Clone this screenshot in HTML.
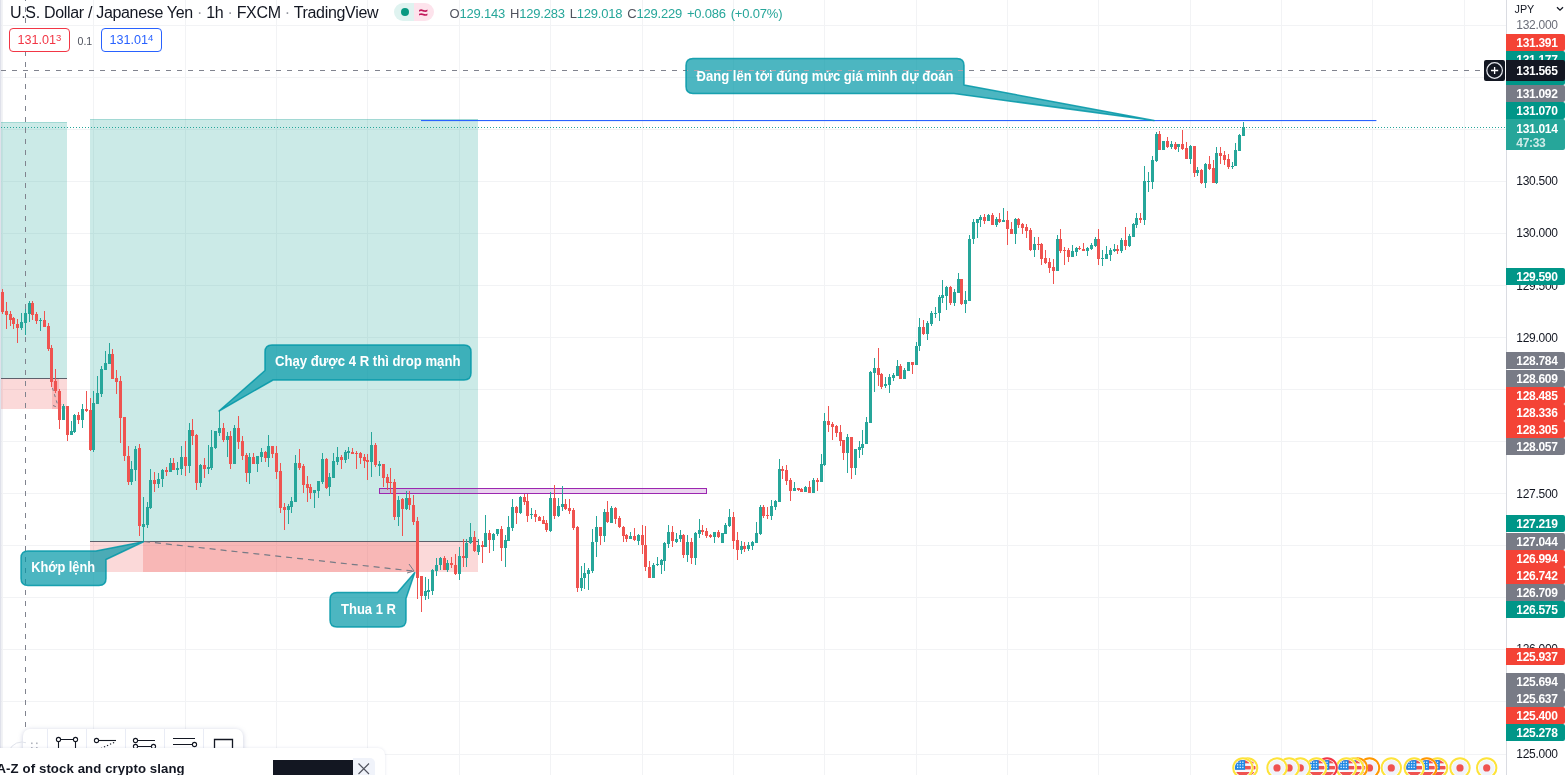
<!DOCTYPE html>
<html lang="vi"><head><meta charset="utf-8"><title>USDJPY</title>
<style>
html,body{margin:0;padding:0;background:#fff;}
body{width:1568px;height:775px;overflow:hidden;position:relative;font-family:"Liberation Sans",sans-serif;color:#131722;}
#chart{position:absolute;left:0;top:0;}
.abs{position:absolute;white-space:nowrap;}
.lbl{position:absolute;left:1506px;width:59px;height:17px;border-radius:0 2px 2px 0;color:#fff;font-weight:bold;font-size:12px;line-height:17px;box-sizing:border-box;padding-left:10.3px;padding-top:0.8px;overflow:hidden;letter-spacing:-0.3px;}
.tick{position:absolute;left:1516.3px;font-size:12px;line-height:14px;color:#131722;letter-spacing:-0.28px;}
.co{font-weight:bold;fill:#fff;font-size:14px;font-family:"Liberation Sans",sans-serif;}
</style></head><body>

<svg id="chart" width="1568" height="775" viewBox="0 0 1568 775">
<g shape-rendering="crispEdges" stroke="#f0f3fa" stroke-width="1">
<g stroke="#f2f3f5">
<line x1="2.5" y1="0" x2="2.5" y2="775"/>
<line x1="93.5" y1="0" x2="93.5" y2="775"/>
<line x1="185.5" y1="0" x2="185.5" y2="775"/>
<line x1="276.5" y1="0" x2="276.5" y2="775"/>
<line x1="367.5" y1="0" x2="367.5" y2="775"/>
<line x1="459.5" y1="0" x2="459.5" y2="775"/>
<line x1="550.5" y1="0" x2="550.5" y2="775"/>
<line x1="642.5" y1="0" x2="642.5" y2="775"/>
<line x1="733.5" y1="0" x2="733.5" y2="775"/>
<line x1="824.5" y1="0" x2="824.5" y2="775"/>
<line x1="916.5" y1="0" x2="916.5" y2="775"/>
<line x1="1007.5" y1="0" x2="1007.5" y2="775"/>
<line x1="1098.5" y1="0" x2="1098.5" y2="775"/>
<line x1="1190.5" y1="0" x2="1190.5" y2="775"/>
<line x1="1281.5" y1="0" x2="1281.5" y2="775"/>
<line x1="1372.5" y1="0" x2="1372.5" y2="775"/>
<line x1="1464.5" y1="0" x2="1464.5" y2="775"/>
<line x1="0" y1="25.5" x2="1506" y2="25.5"/>
<line x1="0" y1="77.5" x2="1506" y2="77.5"/>
<line x1="0" y1="129.5" x2="1506" y2="129.5"/>
<line x1="0" y1="181.5" x2="1506" y2="181.5"/>
<line x1="0" y1="233.5" x2="1506" y2="233.5"/>
<line x1="0" y1="285.5" x2="1506" y2="285.5"/>
<line x1="0" y1="337.5" x2="1506" y2="337.5"/>
<line x1="0" y1="389.5" x2="1506" y2="389.5"/>
<line x1="0" y1="441.5" x2="1506" y2="441.5"/>
<line x1="0" y1="493.5" x2="1506" y2="493.5"/>
<line x1="0" y1="545.5" x2="1506" y2="545.5"/>
<line x1="0" y1="597.5" x2="1506" y2="597.5"/>
<line x1="0" y1="649.5" x2="1506" y2="649.5"/>
<line x1="0" y1="701.5" x2="1506" y2="701.5"/>
<line x1="0" y1="754.5" x2="1506" y2="754.5"/>
</g></g>
<rect x="0" y="0" width="1.5" height="775" fill="#dfe1ea"/>
<g shape-rendering="crispEdges">
<rect x="1" y="122" width="66" height="256" fill="#26a69a" fill-opacity="0.24"/>
<rect x="1" y="122" width="66" height="1" fill="#26a69a" fill-opacity="0.25"/>
<rect x="1" y="378" width="66" height="31" fill="#ef5350" fill-opacity="0.22"/>
<rect x="52" y="378" width="7" height="31" fill="#ef5350" fill-opacity="0.22"/>
<rect x="1" y="378" width="66" height="1" fill="#5d606b"/>
<rect x="90" y="119" width="388" height="422" fill="#26a69a" fill-opacity="0.24"/>
<rect x="90" y="119" width="388" height="1" fill="#26a69a" fill-opacity="0.25"/>
<rect x="90" y="541" width="388" height="31" fill="#ef5350" fill-opacity="0.22"/>
<rect x="143" y="541" width="273" height="31" fill="#ef5350" fill-opacity="0.25"/>
<rect x="90" y="541" width="388" height="1" fill="#5d606b"/>
</g>
<line x1="144" y1="541.5" x2="413" y2="571" stroke="#787b86" stroke-width="1.2" stroke-dasharray="6,5"/>
<path d="M409 564 L414 571 L407 573" fill="none" stroke="#787b86" stroke-width="1"/>
<path d="M52.5 388 L58 406 M53 405.5 L58 407.5 L62.5 403" fill="none" stroke="#787b86" stroke-width="1" stroke-dasharray="3,3.5"/>
<rect x="379.5" y="488.5" width="327" height="5" fill="#9c27b0" fill-opacity="0.2" stroke="#9c27b0" stroke-width="1" shape-rendering="crispEdges"/>
<rect x="421" y="120" width="955.4" height="1.1" fill="#2962ff"/>
<g stroke="#80838e" stroke-width="1" shape-rendering="crispEdges">
<line x1="25.5" y1="0" x2="25.5" y2="748" stroke-dasharray="5,6" stroke-dashoffset="4"/>
<line x1="1" y1="70.5" x2="1484" y2="70.5" stroke-dasharray="5,6"/>
</g>
<line x1="1" y1="127.5" x2="1506" y2="127.5" stroke="#26a69a" stroke-width="1" stroke-dasharray="1,2" shape-rendering="crispEdges"/>
<g shape-rendering="crispEdges">
<rect x="2" y="289" width="1" height="25" fill="#ef5350"/>
<rect x="1" y="292" width="3" height="20" fill="#ef5350"/>
<rect x="6" y="302" width="1" height="27" fill="#ef5350"/>
<rect x="5" y="311" width="3" height="4" fill="#ef5350"/>
<rect x="10" y="311" width="1" height="15" fill="#ef5350"/>
<rect x="9" y="314" width="3" height="6" fill="#ef5350"/>
<rect x="13" y="317" width="1" height="12" fill="#ef5350"/>
<rect x="12" y="318" width="3" height="6" fill="#ef5350"/>
<rect x="17" y="319" width="1" height="24" fill="#ef5350"/>
<rect x="16" y="324" width="3" height="4" fill="#ef5350"/>
<rect x="21" y="313" width="1" height="17" fill="#26a69a"/>
<rect x="20" y="322" width="3" height="6" fill="#26a69a"/>
<rect x="25" y="309" width="1" height="26" fill="#26a69a"/>
<rect x="24" y="313" width="3" height="10" fill="#26a69a"/>
<rect x="29" y="301" width="1" height="21" fill="#26a69a"/>
<rect x="28" y="303" width="3" height="11" fill="#26a69a"/>
<rect x="32" y="301" width="1" height="19" fill="#ef5350"/>
<rect x="31" y="303" width="3" height="12" fill="#ef5350"/>
<rect x="36" y="312" width="1" height="12" fill="#ef5350"/>
<rect x="35" y="314" width="3" height="7" fill="#ef5350"/>
<rect x="40" y="318" width="1" height="13" fill="#26a69a"/>
<rect x="39" y="320" width="3" height="1" fill="#26a69a"/>
<rect x="44" y="311" width="1" height="16" fill="#ef5350"/>
<rect x="43" y="320" width="3" height="7" fill="#ef5350"/>
<rect x="48" y="323" width="1" height="28" fill="#ef5350"/>
<rect x="47" y="326" width="3" height="23" fill="#ef5350"/>
<rect x="51" y="345" width="1" height="42" fill="#ef5350"/>
<rect x="50" y="348" width="3" height="34" fill="#ef5350"/>
<rect x="55" y="369" width="1" height="24" fill="#ef5350"/>
<rect x="54" y="381" width="3" height="10" fill="#ef5350"/>
<rect x="59" y="389" width="1" height="40" fill="#ef5350"/>
<rect x="58" y="391" width="3" height="29" fill="#ef5350"/>
<rect x="63" y="404" width="1" height="16" fill="#26a69a"/>
<rect x="62" y="406" width="3" height="14" fill="#26a69a"/>
<rect x="67" y="406" width="1" height="35" fill="#ef5350"/>
<rect x="66" y="406" width="3" height="29" fill="#ef5350"/>
<rect x="71" y="421" width="1" height="14" fill="#26a69a"/>
<rect x="70" y="431" width="3" height="4" fill="#26a69a"/>
<rect x="74" y="414" width="1" height="19" fill="#26a69a"/>
<rect x="73" y="415" width="3" height="17" fill="#26a69a"/>
<rect x="78" y="412" width="1" height="12" fill="#ef5350"/>
<rect x="77" y="415" width="3" height="5" fill="#ef5350"/>
<rect x="82" y="404" width="1" height="24" fill="#26a69a"/>
<rect x="81" y="409" width="3" height="11" fill="#26a69a"/>
<rect x="86" y="391" width="1" height="21" fill="#ef5350"/>
<rect x="85" y="409" width="3" height="2" fill="#ef5350"/>
<rect x="90" y="398" width="1" height="53" fill="#ef5350"/>
<rect x="89" y="410" width="3" height="40" fill="#ef5350"/>
<rect x="93" y="391" width="1" height="61" fill="#26a69a"/>
<rect x="92" y="403" width="3" height="47" fill="#26a69a"/>
<rect x="97" y="376" width="1" height="28" fill="#26a69a"/>
<rect x="96" y="393" width="3" height="11" fill="#26a69a"/>
<rect x="101" y="366" width="1" height="31" fill="#26a69a"/>
<rect x="100" y="369" width="3" height="25" fill="#26a69a"/>
<rect x="105" y="351" width="1" height="19" fill="#26a69a"/>
<rect x="104" y="363" width="3" height="7" fill="#26a69a"/>
<rect x="109" y="343" width="1" height="21" fill="#26a69a"/>
<rect x="108" y="354" width="3" height="10" fill="#26a69a"/>
<rect x="112" y="349" width="1" height="30" fill="#ef5350"/>
<rect x="111" y="354" width="3" height="25" fill="#ef5350"/>
<rect x="116" y="370" width="1" height="24" fill="#ef5350"/>
<rect x="115" y="378" width="3" height="4" fill="#ef5350"/>
<rect x="120" y="376" width="1" height="67" fill="#ef5350"/>
<rect x="119" y="381" width="3" height="37" fill="#ef5350"/>
<rect x="124" y="417" width="1" height="44" fill="#ef5350"/>
<rect x="123" y="417" width="3" height="39" fill="#ef5350"/>
<rect x="128" y="446" width="1" height="39" fill="#ef5350"/>
<rect x="127" y="456" width="3" height="26" fill="#ef5350"/>
<rect x="131" y="461" width="1" height="24" fill="#26a69a"/>
<rect x="130" y="469" width="3" height="13" fill="#26a69a"/>
<rect x="135" y="446" width="1" height="35" fill="#26a69a"/>
<rect x="134" y="449" width="3" height="21" fill="#26a69a"/>
<rect x="139" y="444" width="1" height="92" fill="#ef5350"/>
<rect x="138" y="448" width="3" height="78" fill="#ef5350"/>
<rect x="143" y="497" width="1" height="45" fill="#26a69a"/>
<rect x="142" y="524" width="3" height="3" fill="#26a69a"/>
<rect x="147" y="502" width="1" height="26" fill="#26a69a"/>
<rect x="146" y="507" width="3" height="18" fill="#26a69a"/>
<rect x="150" y="469" width="1" height="40" fill="#26a69a"/>
<rect x="149" y="480" width="3" height="28" fill="#26a69a"/>
<rect x="154" y="472" width="1" height="20" fill="#ef5350"/>
<rect x="153" y="480" width="3" height="4" fill="#ef5350"/>
<rect x="158" y="473" width="1" height="15" fill="#26a69a"/>
<rect x="157" y="479" width="3" height="5" fill="#26a69a"/>
<rect x="162" y="469" width="1" height="18" fill="#26a69a"/>
<rect x="161" y="470" width="3" height="9" fill="#26a69a"/>
<rect x="166" y="467" width="1" height="9" fill="#ef5350"/>
<rect x="165" y="470" width="3" height="2" fill="#ef5350"/>
<rect x="170" y="458" width="1" height="14" fill="#26a69a"/>
<rect x="169" y="463" width="3" height="9" fill="#26a69a"/>
<rect x="173" y="458" width="1" height="12" fill="#ef5350"/>
<rect x="172" y="463" width="3" height="7" fill="#ef5350"/>
<rect x="177" y="462" width="1" height="13" fill="#26a69a"/>
<rect x="176" y="468" width="3" height="2" fill="#26a69a"/>
<rect x="181" y="446" width="1" height="29" fill="#26a69a"/>
<rect x="180" y="457" width="3" height="12" fill="#26a69a"/>
<rect x="185" y="441" width="1" height="35" fill="#ef5350"/>
<rect x="184" y="457" width="3" height="9" fill="#ef5350"/>
<rect x="189" y="423" width="1" height="50" fill="#26a69a"/>
<rect x="188" y="430" width="3" height="36" fill="#26a69a"/>
<rect x="192" y="419" width="1" height="26" fill="#ef5350"/>
<rect x="191" y="430" width="3" height="6" fill="#ef5350"/>
<rect x="196" y="434" width="1" height="56" fill="#ef5350"/>
<rect x="195" y="435" width="3" height="48" fill="#ef5350"/>
<rect x="200" y="464" width="1" height="23" fill="#26a69a"/>
<rect x="199" y="465" width="3" height="18" fill="#26a69a"/>
<rect x="204" y="458" width="1" height="20" fill="#ef5350"/>
<rect x="203" y="465" width="3" height="4" fill="#ef5350"/>
<rect x="208" y="445" width="1" height="29" fill="#26a69a"/>
<rect x="207" y="467" width="3" height="2" fill="#26a69a"/>
<rect x="211" y="430" width="1" height="40" fill="#26a69a"/>
<rect x="210" y="447" width="3" height="21" fill="#26a69a"/>
<rect x="215" y="431" width="1" height="18" fill="#26a69a"/>
<rect x="214" y="431" width="3" height="17" fill="#26a69a"/>
<rect x="219" y="410" width="1" height="26" fill="#26a69a"/>
<rect x="218" y="428" width="3" height="5" fill="#26a69a"/>
<rect x="223" y="423" width="1" height="19" fill="#ef5350"/>
<rect x="222" y="428" width="3" height="12" fill="#ef5350"/>
<rect x="227" y="432" width="1" height="25" fill="#26a69a"/>
<rect x="226" y="436" width="3" height="4" fill="#26a69a"/>
<rect x="230" y="431" width="1" height="38" fill="#ef5350"/>
<rect x="229" y="436" width="3" height="28" fill="#ef5350"/>
<rect x="234" y="425" width="1" height="39" fill="#26a69a"/>
<rect x="233" y="428" width="3" height="36" fill="#26a69a"/>
<rect x="238" y="416" width="1" height="33" fill="#ef5350"/>
<rect x="237" y="428" width="3" height="14" fill="#ef5350"/>
<rect x="242" y="436" width="1" height="24" fill="#ef5350"/>
<rect x="241" y="441" width="3" height="15" fill="#ef5350"/>
<rect x="246" y="453" width="1" height="29" fill="#ef5350"/>
<rect x="245" y="455" width="3" height="18" fill="#ef5350"/>
<rect x="249" y="453" width="1" height="31" fill="#26a69a"/>
<rect x="248" y="457" width="3" height="16" fill="#26a69a"/>
<rect x="253" y="453" width="1" height="11" fill="#ef5350"/>
<rect x="252" y="457" width="3" height="7" fill="#ef5350"/>
<rect x="257" y="456" width="1" height="16" fill="#26a69a"/>
<rect x="256" y="456" width="3" height="8" fill="#26a69a"/>
<rect x="261" y="448" width="1" height="14" fill="#26a69a"/>
<rect x="260" y="452" width="3" height="5" fill="#26a69a"/>
<rect x="265" y="451" width="1" height="11" fill="#ef5350"/>
<rect x="264" y="452" width="3" height="6" fill="#ef5350"/>
<rect x="268" y="435" width="1" height="32" fill="#26a69a"/>
<rect x="267" y="446" width="3" height="12" fill="#26a69a"/>
<rect x="272" y="446" width="1" height="12" fill="#ef5350"/>
<rect x="271" y="446" width="3" height="8" fill="#ef5350"/>
<rect x="276" y="446" width="1" height="33" fill="#ef5350"/>
<rect x="275" y="453" width="3" height="19" fill="#ef5350"/>
<rect x="280" y="463" width="1" height="50" fill="#ef5350"/>
<rect x="279" y="471" width="3" height="37" fill="#ef5350"/>
<rect x="284" y="503" width="1" height="27" fill="#ef5350"/>
<rect x="283" y="507" width="3" height="3" fill="#ef5350"/>
<rect x="288" y="504" width="1" height="20" fill="#26a69a"/>
<rect x="287" y="506" width="3" height="4" fill="#26a69a"/>
<rect x="291" y="497" width="1" height="16" fill="#26a69a"/>
<rect x="290" y="501" width="3" height="6" fill="#26a69a"/>
<rect x="295" y="455" width="1" height="47" fill="#26a69a"/>
<rect x="294" y="463" width="3" height="39" fill="#26a69a"/>
<rect x="299" y="449" width="1" height="21" fill="#ef5350"/>
<rect x="298" y="463" width="3" height="5" fill="#ef5350"/>
<rect x="303" y="464" width="1" height="29" fill="#ef5350"/>
<rect x="302" y="466" width="3" height="19" fill="#ef5350"/>
<rect x="307" y="476" width="1" height="26" fill="#ef5350"/>
<rect x="306" y="484" width="3" height="4" fill="#ef5350"/>
<rect x="310" y="484" width="1" height="15" fill="#ef5350"/>
<rect x="309" y="487" width="3" height="6" fill="#ef5350"/>
<rect x="314" y="490" width="1" height="18" fill="#26a69a"/>
<rect x="313" y="490" width="3" height="3" fill="#26a69a"/>
<rect x="318" y="481" width="1" height="17" fill="#26a69a"/>
<rect x="317" y="481" width="3" height="10" fill="#26a69a"/>
<rect x="322" y="453" width="1" height="31" fill="#26a69a"/>
<rect x="321" y="459" width="3" height="23" fill="#26a69a"/>
<rect x="326" y="458" width="1" height="31" fill="#ef5350"/>
<rect x="325" y="459" width="3" height="29" fill="#ef5350"/>
<rect x="329" y="473" width="1" height="23" fill="#26a69a"/>
<rect x="328" y="477" width="3" height="10" fill="#26a69a"/>
<rect x="333" y="453" width="1" height="25" fill="#26a69a"/>
<rect x="332" y="461" width="3" height="17" fill="#26a69a"/>
<rect x="337" y="447" width="1" height="18" fill="#26a69a"/>
<rect x="336" y="457" width="3" height="5" fill="#26a69a"/>
<rect x="341" y="455" width="1" height="14" fill="#ef5350"/>
<rect x="340" y="457" width="3" height="3" fill="#ef5350"/>
<rect x="345" y="450" width="1" height="13" fill="#26a69a"/>
<rect x="344" y="452" width="3" height="8" fill="#26a69a"/>
<rect x="348" y="447" width="1" height="12" fill="#26a69a"/>
<rect x="347" y="451" width="3" height="2" fill="#26a69a"/>
<rect x="352" y="448" width="1" height="6" fill="#ef5350"/>
<rect x="351" y="452" width="3" height="2" fill="#ef5350"/>
<rect x="356" y="451" width="1" height="18" fill="#ef5350"/>
<rect x="355" y="453" width="3" height="1" fill="#ef5350"/>
<rect x="360" y="452" width="1" height="12" fill="#ef5350"/>
<rect x="359" y="453" width="3" height="5" fill="#ef5350"/>
<rect x="364" y="454" width="1" height="14" fill="#ef5350"/>
<rect x="363" y="457" width="3" height="4" fill="#ef5350"/>
<rect x="367" y="454" width="1" height="26" fill="#ef5350"/>
<rect x="366" y="460" width="3" height="2" fill="#ef5350"/>
<rect x="371" y="432" width="1" height="45" fill="#26a69a"/>
<rect x="370" y="445" width="3" height="17" fill="#26a69a"/>
<rect x="375" y="443" width="1" height="24" fill="#ef5350"/>
<rect x="374" y="445" width="3" height="20" fill="#ef5350"/>
<rect x="379" y="461" width="1" height="15" fill="#26a69a"/>
<rect x="378" y="464" width="3" height="2" fill="#26a69a"/>
<rect x="383" y="464" width="1" height="23" fill="#ef5350"/>
<rect x="382" y="464" width="3" height="14" fill="#ef5350"/>
<rect x="387" y="474" width="1" height="16" fill="#ef5350"/>
<rect x="386" y="477" width="3" height="6" fill="#ef5350"/>
<rect x="390" y="468" width="1" height="26" fill="#ef5350"/>
<rect x="389" y="482" width="3" height="1" fill="#ef5350"/>
<rect x="394" y="479" width="1" height="41" fill="#ef5350"/>
<rect x="393" y="482" width="3" height="35" fill="#ef5350"/>
<rect x="398" y="496" width="1" height="30" fill="#26a69a"/>
<rect x="397" y="500" width="3" height="17" fill="#26a69a"/>
<rect x="402" y="498" width="1" height="38" fill="#ef5350"/>
<rect x="401" y="499" width="3" height="10" fill="#ef5350"/>
<rect x="406" y="491" width="1" height="19" fill="#26a69a"/>
<rect x="405" y="498" width="3" height="11" fill="#26a69a"/>
<rect x="409" y="491" width="1" height="19" fill="#ef5350"/>
<rect x="408" y="498" width="3" height="7" fill="#ef5350"/>
<rect x="413" y="495" width="1" height="30" fill="#ef5350"/>
<rect x="412" y="505" width="3" height="17" fill="#ef5350"/>
<rect x="417" y="517" width="1" height="82" fill="#ef5350"/>
<rect x="416" y="521" width="3" height="57" fill="#ef5350"/>
<rect x="421" y="576" width="1" height="36" fill="#ef5350"/>
<rect x="420" y="576" width="3" height="20" fill="#ef5350"/>
<rect x="425" y="577" width="1" height="23" fill="#26a69a"/>
<rect x="424" y="591" width="3" height="5" fill="#26a69a"/>
<rect x="428" y="579" width="1" height="20" fill="#26a69a"/>
<rect x="427" y="590" width="3" height="2" fill="#26a69a"/>
<rect x="432" y="569" width="1" height="26" fill="#26a69a"/>
<rect x="431" y="570" width="3" height="21" fill="#26a69a"/>
<rect x="436" y="558" width="1" height="18" fill="#26a69a"/>
<rect x="435" y="565" width="3" height="6" fill="#26a69a"/>
<rect x="440" y="557" width="1" height="13" fill="#26a69a"/>
<rect x="439" y="558" width="3" height="7" fill="#26a69a"/>
<rect x="444" y="556" width="1" height="14" fill="#ef5350"/>
<rect x="443" y="558" width="3" height="12" fill="#ef5350"/>
<rect x="447" y="560" width="1" height="12" fill="#26a69a"/>
<rect x="446" y="563" width="3" height="7" fill="#26a69a"/>
<rect x="451" y="557" width="1" height="11" fill="#ef5350"/>
<rect x="450" y="563" width="3" height="2" fill="#ef5350"/>
<rect x="455" y="554" width="1" height="21" fill="#ef5350"/>
<rect x="454" y="565" width="3" height="9" fill="#ef5350"/>
<rect x="459" y="547" width="1" height="33" fill="#26a69a"/>
<rect x="458" y="556" width="3" height="18" fill="#26a69a"/>
<rect x="463" y="539" width="1" height="28" fill="#ef5350"/>
<rect x="462" y="556" width="3" height="2" fill="#ef5350"/>
<rect x="466" y="539" width="1" height="28" fill="#26a69a"/>
<rect x="465" y="543" width="3" height="15" fill="#26a69a"/>
<rect x="470" y="523" width="1" height="21" fill="#26a69a"/>
<rect x="469" y="537" width="3" height="6" fill="#26a69a"/>
<rect x="474" y="531" width="1" height="21" fill="#ef5350"/>
<rect x="473" y="537" width="3" height="14" fill="#ef5350"/>
<rect x="478" y="539" width="1" height="16" fill="#26a69a"/>
<rect x="477" y="545" width="3" height="7" fill="#26a69a"/>
<rect x="482" y="541" width="1" height="22" fill="#ef5350"/>
<rect x="481" y="545" width="3" height="2" fill="#ef5350"/>
<rect x="485" y="515" width="1" height="32" fill="#26a69a"/>
<rect x="484" y="533" width="3" height="14" fill="#26a69a"/>
<rect x="489" y="530" width="1" height="23" fill="#ef5350"/>
<rect x="488" y="533" width="3" height="7" fill="#ef5350"/>
<rect x="493" y="533" width="1" height="18" fill="#26a69a"/>
<rect x="492" y="534" width="3" height="6" fill="#26a69a"/>
<rect x="497" y="529" width="1" height="7" fill="#26a69a"/>
<rect x="496" y="529" width="3" height="5" fill="#26a69a"/>
<rect x="501" y="526" width="1" height="35" fill="#ef5350"/>
<rect x="500" y="529" width="3" height="19" fill="#ef5350"/>
<rect x="505" y="535" width="1" height="32" fill="#26a69a"/>
<rect x="504" y="540" width="3" height="8" fill="#26a69a"/>
<rect x="508" y="516" width="1" height="25" fill="#26a69a"/>
<rect x="507" y="527" width="3" height="14" fill="#26a69a"/>
<rect x="512" y="499" width="1" height="32" fill="#26a69a"/>
<rect x="511" y="507" width="3" height="21" fill="#26a69a"/>
<rect x="516" y="506" width="1" height="18" fill="#ef5350"/>
<rect x="515" y="507" width="3" height="6" fill="#ef5350"/>
<rect x="520" y="496" width="1" height="18" fill="#26a69a"/>
<rect x="519" y="497" width="3" height="16" fill="#26a69a"/>
<rect x="524" y="494" width="1" height="11" fill="#ef5350"/>
<rect x="523" y="497" width="3" height="5" fill="#ef5350"/>
<rect x="527" y="494" width="1" height="28" fill="#ef5350"/>
<rect x="526" y="501" width="3" height="15" fill="#ef5350"/>
<rect x="531" y="508" width="1" height="11" fill="#26a69a"/>
<rect x="530" y="514" width="3" height="1" fill="#26a69a"/>
<rect x="535" y="510" width="1" height="12" fill="#ef5350"/>
<rect x="534" y="514" width="3" height="3" fill="#ef5350"/>
<rect x="539" y="516" width="1" height="5" fill="#ef5350"/>
<rect x="538" y="517" width="3" height="4" fill="#ef5350"/>
<rect x="543" y="516" width="1" height="8" fill="#ef5350"/>
<rect x="542" y="520" width="3" height="4" fill="#ef5350"/>
<rect x="546" y="520" width="1" height="12" fill="#ef5350"/>
<rect x="545" y="523" width="3" height="7" fill="#ef5350"/>
<rect x="550" y="492" width="1" height="40" fill="#26a69a"/>
<rect x="549" y="498" width="3" height="33" fill="#26a69a"/>
<rect x="554" y="485" width="1" height="34" fill="#ef5350"/>
<rect x="553" y="498" width="3" height="18" fill="#ef5350"/>
<rect x="558" y="498" width="1" height="19" fill="#26a69a"/>
<rect x="557" y="506" width="3" height="10" fill="#26a69a"/>
<rect x="562" y="486" width="1" height="25" fill="#26a69a"/>
<rect x="561" y="504" width="3" height="3" fill="#26a69a"/>
<rect x="565" y="499" width="1" height="11" fill="#ef5350"/>
<rect x="564" y="504" width="3" height="5" fill="#ef5350"/>
<rect x="569" y="499" width="1" height="15" fill="#ef5350"/>
<rect x="568" y="508" width="3" height="3" fill="#ef5350"/>
<rect x="573" y="508" width="1" height="22" fill="#ef5350"/>
<rect x="572" y="510" width="3" height="18" fill="#ef5350"/>
<rect x="577" y="526" width="1" height="66" fill="#ef5350"/>
<rect x="576" y="527" width="3" height="61" fill="#ef5350"/>
<rect x="581" y="566" width="1" height="25" fill="#26a69a"/>
<rect x="580" y="578" width="3" height="10" fill="#26a69a"/>
<rect x="584" y="563" width="1" height="26" fill="#26a69a"/>
<rect x="583" y="573" width="3" height="5" fill="#26a69a"/>
<rect x="588" y="568" width="1" height="22" fill="#26a69a"/>
<rect x="587" y="570" width="3" height="4" fill="#26a69a"/>
<rect x="592" y="529" width="1" height="44" fill="#26a69a"/>
<rect x="591" y="542" width="3" height="29" fill="#26a69a"/>
<rect x="596" y="516" width="1" height="41" fill="#26a69a"/>
<rect x="595" y="527" width="3" height="15" fill="#26a69a"/>
<rect x="600" y="527" width="1" height="18" fill="#ef5350"/>
<rect x="599" y="527" width="3" height="9" fill="#ef5350"/>
<rect x="604" y="509" width="1" height="33" fill="#26a69a"/>
<rect x="603" y="512" width="3" height="24" fill="#26a69a"/>
<rect x="607" y="501" width="1" height="22" fill="#ef5350"/>
<rect x="606" y="512" width="3" height="10" fill="#ef5350"/>
<rect x="611" y="506" width="1" height="17" fill="#26a69a"/>
<rect x="610" y="508" width="3" height="15" fill="#26a69a"/>
<rect x="615" y="507" width="1" height="17" fill="#ef5350"/>
<rect x="614" y="508" width="3" height="11" fill="#ef5350"/>
<rect x="619" y="516" width="1" height="12" fill="#ef5350"/>
<rect x="618" y="518" width="3" height="9" fill="#ef5350"/>
<rect x="623" y="526" width="1" height="16" fill="#ef5350"/>
<rect x="622" y="527" width="3" height="9" fill="#ef5350"/>
<rect x="626" y="534" width="1" height="8" fill="#ef5350"/>
<rect x="625" y="535" width="3" height="4" fill="#ef5350"/>
<rect x="630" y="532" width="1" height="7" fill="#26a69a"/>
<rect x="629" y="536" width="3" height="3" fill="#26a69a"/>
<rect x="634" y="528" width="1" height="13" fill="#ef5350"/>
<rect x="633" y="536" width="3" height="4" fill="#ef5350"/>
<rect x="638" y="534" width="1" height="11" fill="#26a69a"/>
<rect x="637" y="535" width="3" height="6" fill="#26a69a"/>
<rect x="642" y="525" width="1" height="29" fill="#ef5350"/>
<rect x="641" y="535" width="3" height="10" fill="#ef5350"/>
<rect x="645" y="526" width="1" height="45" fill="#ef5350"/>
<rect x="644" y="545" width="3" height="22" fill="#ef5350"/>
<rect x="649" y="561" width="1" height="17" fill="#ef5350"/>
<rect x="648" y="567" width="3" height="11" fill="#ef5350"/>
<rect x="653" y="563" width="1" height="15" fill="#26a69a"/>
<rect x="652" y="565" width="3" height="13" fill="#26a69a"/>
<rect x="657" y="557" width="1" height="9" fill="#26a69a"/>
<rect x="656" y="564" width="3" height="1" fill="#26a69a"/>
<rect x="661" y="559" width="1" height="15" fill="#26a69a"/>
<rect x="660" y="560" width="3" height="5" fill="#26a69a"/>
<rect x="664" y="542" width="1" height="29" fill="#26a69a"/>
<rect x="663" y="543" width="3" height="18" fill="#26a69a"/>
<rect x="668" y="525" width="1" height="23" fill="#26a69a"/>
<rect x="667" y="532" width="3" height="12" fill="#26a69a"/>
<rect x="672" y="526" width="1" height="21" fill="#ef5350"/>
<rect x="671" y="532" width="3" height="9" fill="#ef5350"/>
<rect x="676" y="533" width="1" height="10" fill="#26a69a"/>
<rect x="675" y="539" width="3" height="3" fill="#26a69a"/>
<rect x="680" y="530" width="1" height="12" fill="#26a69a"/>
<rect x="679" y="535" width="3" height="4" fill="#26a69a"/>
<rect x="683" y="534" width="1" height="24" fill="#ef5350"/>
<rect x="682" y="535" width="3" height="20" fill="#ef5350"/>
<rect x="687" y="535" width="1" height="27" fill="#26a69a"/>
<rect x="686" y="542" width="3" height="13" fill="#26a69a"/>
<rect x="691" y="538" width="1" height="26" fill="#ef5350"/>
<rect x="690" y="542" width="3" height="16" fill="#ef5350"/>
<rect x="695" y="532" width="1" height="33" fill="#26a69a"/>
<rect x="694" y="533" width="3" height="25" fill="#26a69a"/>
<rect x="699" y="519" width="1" height="19" fill="#26a69a"/>
<rect x="698" y="530" width="3" height="4" fill="#26a69a"/>
<rect x="702" y="525" width="1" height="10" fill="#ef5350"/>
<rect x="701" y="530" width="3" height="2" fill="#ef5350"/>
<rect x="706" y="528" width="1" height="10" fill="#ef5350"/>
<rect x="705" y="531" width="3" height="5" fill="#ef5350"/>
<rect x="710" y="534" width="1" height="4" fill="#ef5350"/>
<rect x="709" y="535" width="3" height="2" fill="#ef5350"/>
<rect x="714" y="532" width="1" height="11" fill="#26a69a"/>
<rect x="713" y="532" width="3" height="5" fill="#26a69a"/>
<rect x="718" y="530" width="1" height="8" fill="#ef5350"/>
<rect x="717" y="532" width="3" height="5" fill="#ef5350"/>
<rect x="722" y="533" width="1" height="10" fill="#26a69a"/>
<rect x="721" y="533" width="3" height="10" fill="#26a69a"/>
<rect x="725" y="523" width="1" height="11" fill="#26a69a"/>
<rect x="724" y="525" width="3" height="9" fill="#26a69a"/>
<rect x="729" y="509" width="1" height="18" fill="#26a69a"/>
<rect x="728" y="517" width="3" height="9" fill="#26a69a"/>
<rect x="733" y="512" width="1" height="37" fill="#ef5350"/>
<rect x="732" y="517" width="3" height="24" fill="#ef5350"/>
<rect x="737" y="532" width="1" height="28" fill="#ef5350"/>
<rect x="736" y="540" width="3" height="10" fill="#ef5350"/>
<rect x="741" y="541" width="1" height="13" fill="#26a69a"/>
<rect x="740" y="546" width="3" height="4" fill="#26a69a"/>
<rect x="744" y="542" width="1" height="10" fill="#ef5350"/>
<rect x="743" y="546" width="3" height="3" fill="#ef5350"/>
<rect x="748" y="542" width="1" height="9" fill="#26a69a"/>
<rect x="747" y="545" width="3" height="4" fill="#26a69a"/>
<rect x="752" y="541" width="1" height="9" fill="#26a69a"/>
<rect x="751" y="542" width="3" height="4" fill="#26a69a"/>
<rect x="756" y="522" width="1" height="21" fill="#26a69a"/>
<rect x="755" y="533" width="3" height="10" fill="#26a69a"/>
<rect x="760" y="505" width="1" height="30" fill="#26a69a"/>
<rect x="759" y="507" width="3" height="27" fill="#26a69a"/>
<rect x="763" y="505" width="1" height="13" fill="#ef5350"/>
<rect x="762" y="507" width="3" height="9" fill="#ef5350"/>
<rect x="767" y="507" width="1" height="12" fill="#ef5350"/>
<rect x="766" y="515" width="3" height="1" fill="#ef5350"/>
<rect x="771" y="500" width="1" height="20" fill="#26a69a"/>
<rect x="770" y="506" width="3" height="10" fill="#26a69a"/>
<rect x="775" y="500" width="1" height="10" fill="#26a69a"/>
<rect x="774" y="501" width="3" height="6" fill="#26a69a"/>
<rect x="779" y="459" width="1" height="43" fill="#26a69a"/>
<rect x="778" y="469" width="3" height="33" fill="#26a69a"/>
<rect x="782" y="466" width="1" height="13" fill="#ef5350"/>
<rect x="781" y="469" width="3" height="2" fill="#ef5350"/>
<rect x="786" y="465" width="1" height="20" fill="#ef5350"/>
<rect x="785" y="470" width="3" height="11" fill="#ef5350"/>
<rect x="790" y="478" width="1" height="23" fill="#ef5350"/>
<rect x="789" y="480" width="3" height="11" fill="#ef5350"/>
<rect x="794" y="482" width="1" height="9" fill="#26a69a"/>
<rect x="793" y="488" width="3" height="3" fill="#26a69a"/>
<rect x="798" y="488" width="1" height="3" fill="#ef5350"/>
<rect x="797" y="488" width="3" height="2" fill="#ef5350"/>
<rect x="801" y="488" width="1" height="4" fill="#ef5350"/>
<rect x="800" y="489" width="3" height="3" fill="#ef5350"/>
<rect x="805" y="486" width="1" height="6" fill="#26a69a"/>
<rect x="804" y="487" width="3" height="5" fill="#26a69a"/>
<rect x="809" y="481" width="1" height="12" fill="#ef5350"/>
<rect x="808" y="487" width="3" height="6" fill="#ef5350"/>
<rect x="813" y="478" width="1" height="15" fill="#26a69a"/>
<rect x="812" y="480" width="3" height="13" fill="#26a69a"/>
<rect x="817" y="478" width="1" height="13" fill="#ef5350"/>
<rect x="816" y="480" width="3" height="2" fill="#ef5350"/>
<rect x="821" y="454" width="1" height="28" fill="#26a69a"/>
<rect x="820" y="464" width="3" height="18" fill="#26a69a"/>
<rect x="824" y="413" width="1" height="53" fill="#26a69a"/>
<rect x="823" y="421" width="3" height="44" fill="#26a69a"/>
<rect x="828" y="406" width="1" height="26" fill="#ef5350"/>
<rect x="827" y="421" width="3" height="4" fill="#ef5350"/>
<rect x="832" y="422" width="1" height="18" fill="#ef5350"/>
<rect x="831" y="424" width="3" height="3" fill="#ef5350"/>
<rect x="836" y="425" width="1" height="12" fill="#ef5350"/>
<rect x="835" y="426" width="3" height="7" fill="#ef5350"/>
<rect x="840" y="425" width="1" height="21" fill="#ef5350"/>
<rect x="839" y="432" width="3" height="9" fill="#ef5350"/>
<rect x="843" y="440" width="1" height="20" fill="#ef5350"/>
<rect x="842" y="440" width="3" height="13" fill="#ef5350"/>
<rect x="847" y="434" width="1" height="39" fill="#26a69a"/>
<rect x="846" y="437" width="3" height="16" fill="#26a69a"/>
<rect x="851" y="437" width="1" height="42" fill="#ef5350"/>
<rect x="850" y="437" width="3" height="31" fill="#ef5350"/>
<rect x="855" y="449" width="1" height="26" fill="#26a69a"/>
<rect x="854" y="449" width="3" height="19" fill="#26a69a"/>
<rect x="859" y="441" width="1" height="17" fill="#26a69a"/>
<rect x="858" y="447" width="3" height="3" fill="#26a69a"/>
<rect x="862" y="430" width="1" height="25" fill="#26a69a"/>
<rect x="861" y="444" width="3" height="4" fill="#26a69a"/>
<rect x="866" y="417" width="1" height="27" fill="#26a69a"/>
<rect x="865" y="422" width="3" height="22" fill="#26a69a"/>
<rect x="870" y="371" width="1" height="52" fill="#26a69a"/>
<rect x="869" y="372" width="3" height="51" fill="#26a69a"/>
<rect x="874" y="358" width="1" height="34" fill="#26a69a"/>
<rect x="873" y="368" width="3" height="5" fill="#26a69a"/>
<rect x="878" y="348" width="1" height="38" fill="#ef5350"/>
<rect x="877" y="368" width="3" height="7" fill="#ef5350"/>
<rect x="881" y="373" width="1" height="16" fill="#ef5350"/>
<rect x="880" y="374" width="3" height="13" fill="#ef5350"/>
<rect x="885" y="377" width="1" height="11" fill="#26a69a"/>
<rect x="884" y="384" width="3" height="2" fill="#26a69a"/>
<rect x="889" y="374" width="1" height="19" fill="#26a69a"/>
<rect x="888" y="377" width="3" height="8" fill="#26a69a"/>
<rect x="893" y="373" width="1" height="8" fill="#26a69a"/>
<rect x="892" y="375" width="3" height="3" fill="#26a69a"/>
<rect x="897" y="360" width="1" height="16" fill="#26a69a"/>
<rect x="896" y="366" width="3" height="10" fill="#26a69a"/>
<rect x="900" y="364" width="1" height="15" fill="#ef5350"/>
<rect x="899" y="366" width="3" height="13" fill="#ef5350"/>
<rect x="904" y="368" width="1" height="11" fill="#26a69a"/>
<rect x="903" y="370" width="3" height="9" fill="#26a69a"/>
<rect x="908" y="362" width="1" height="9" fill="#26a69a"/>
<rect x="907" y="362" width="3" height="9" fill="#26a69a"/>
<rect x="912" y="362" width="1" height="12" fill="#ef5350"/>
<rect x="911" y="362" width="3" height="3" fill="#ef5350"/>
<rect x="916" y="342" width="1" height="23" fill="#26a69a"/>
<rect x="915" y="346" width="3" height="19" fill="#26a69a"/>
<rect x="919" y="318" width="1" height="33" fill="#26a69a"/>
<rect x="918" y="327" width="3" height="19" fill="#26a69a"/>
<rect x="923" y="320" width="1" height="15" fill="#ef5350"/>
<rect x="922" y="327" width="3" height="7" fill="#ef5350"/>
<rect x="927" y="321" width="1" height="19" fill="#26a69a"/>
<rect x="926" y="323" width="3" height="11" fill="#26a69a"/>
<rect x="931" y="311" width="1" height="15" fill="#26a69a"/>
<rect x="930" y="313" width="3" height="11" fill="#26a69a"/>
<rect x="935" y="307" width="1" height="11" fill="#26a69a"/>
<rect x="934" y="313" width="3" height="1" fill="#26a69a"/>
<rect x="939" y="295" width="1" height="26" fill="#26a69a"/>
<rect x="938" y="297" width="3" height="16" fill="#26a69a"/>
<rect x="942" y="280" width="1" height="23" fill="#26a69a"/>
<rect x="941" y="295" width="3" height="3" fill="#26a69a"/>
<rect x="946" y="286" width="1" height="24" fill="#26a69a"/>
<rect x="945" y="287" width="3" height="9" fill="#26a69a"/>
<rect x="950" y="286" width="1" height="19" fill="#ef5350"/>
<rect x="949" y="287" width="3" height="16" fill="#ef5350"/>
<rect x="954" y="289" width="1" height="17" fill="#26a69a"/>
<rect x="953" y="292" width="3" height="11" fill="#26a69a"/>
<rect x="958" y="273" width="1" height="20" fill="#26a69a"/>
<rect x="957" y="279" width="3" height="14" fill="#26a69a"/>
<rect x="961" y="279" width="1" height="26" fill="#ef5350"/>
<rect x="960" y="279" width="3" height="25" fill="#ef5350"/>
<rect x="965" y="291" width="1" height="22" fill="#26a69a"/>
<rect x="964" y="300" width="3" height="4" fill="#26a69a"/>
<rect x="969" y="235" width="1" height="66" fill="#26a69a"/>
<rect x="968" y="239" width="3" height="62" fill="#26a69a"/>
<rect x="973" y="219" width="1" height="25" fill="#26a69a"/>
<rect x="972" y="222" width="3" height="17" fill="#26a69a"/>
<rect x="977" y="219" width="1" height="19" fill="#26a69a"/>
<rect x="976" y="219" width="3" height="4" fill="#26a69a"/>
<rect x="980" y="215" width="1" height="12" fill="#26a69a"/>
<rect x="979" y="217" width="3" height="3" fill="#26a69a"/>
<rect x="984" y="214" width="1" height="10" fill="#ef5350"/>
<rect x="983" y="217" width="3" height="4" fill="#ef5350"/>
<rect x="988" y="214" width="1" height="7" fill="#26a69a"/>
<rect x="987" y="215" width="3" height="6" fill="#26a69a"/>
<rect x="992" y="213" width="1" height="12" fill="#ef5350"/>
<rect x="991" y="215" width="3" height="10" fill="#ef5350"/>
<rect x="996" y="217" width="1" height="10" fill="#26a69a"/>
<rect x="995" y="219" width="3" height="6" fill="#26a69a"/>
<rect x="999" y="213" width="1" height="10" fill="#ef5350"/>
<rect x="998" y="219" width="3" height="3" fill="#ef5350"/>
<rect x="1003" y="208" width="1" height="14" fill="#26a69a"/>
<rect x="1002" y="220" width="3" height="2" fill="#26a69a"/>
<rect x="1007" y="211" width="1" height="34" fill="#ef5350"/>
<rect x="1006" y="220" width="3" height="9" fill="#ef5350"/>
<rect x="1011" y="222" width="1" height="12" fill="#ef5350"/>
<rect x="1010" y="229" width="3" height="5" fill="#ef5350"/>
<rect x="1015" y="218" width="1" height="26" fill="#26a69a"/>
<rect x="1014" y="219" width="3" height="15" fill="#26a69a"/>
<rect x="1018" y="218" width="1" height="10" fill="#ef5350"/>
<rect x="1017" y="219" width="3" height="6" fill="#ef5350"/>
<rect x="1022" y="223" width="1" height="11" fill="#ef5350"/>
<rect x="1021" y="224" width="3" height="4" fill="#ef5350"/>
<rect x="1026" y="224" width="1" height="14" fill="#ef5350"/>
<rect x="1025" y="227" width="3" height="4" fill="#ef5350"/>
<rect x="1030" y="228" width="1" height="23" fill="#ef5350"/>
<rect x="1029" y="230" width="3" height="20" fill="#ef5350"/>
<rect x="1034" y="237" width="1" height="20" fill="#26a69a"/>
<rect x="1033" y="244" width="3" height="6" fill="#26a69a"/>
<rect x="1038" y="237" width="1" height="13" fill="#ef5350"/>
<rect x="1037" y="244" width="3" height="1" fill="#ef5350"/>
<rect x="1041" y="243" width="1" height="22" fill="#ef5350"/>
<rect x="1040" y="244" width="3" height="15" fill="#ef5350"/>
<rect x="1045" y="250" width="1" height="14" fill="#ef5350"/>
<rect x="1044" y="258" width="3" height="5" fill="#ef5350"/>
<rect x="1049" y="258" width="1" height="15" fill="#ef5350"/>
<rect x="1048" y="262" width="3" height="6" fill="#ef5350"/>
<rect x="1053" y="259" width="1" height="25" fill="#ef5350"/>
<rect x="1052" y="267" width="3" height="4" fill="#ef5350"/>
<rect x="1057" y="235" width="1" height="36" fill="#26a69a"/>
<rect x="1056" y="239" width="3" height="32" fill="#26a69a"/>
<rect x="1060" y="229" width="1" height="24" fill="#ef5350"/>
<rect x="1059" y="239" width="3" height="12" fill="#ef5350"/>
<rect x="1064" y="247" width="1" height="18" fill="#ef5350"/>
<rect x="1063" y="250" width="3" height="1" fill="#ef5350"/>
<rect x="1068" y="248" width="1" height="14" fill="#ef5350"/>
<rect x="1067" y="250" width="3" height="7" fill="#ef5350"/>
<rect x="1072" y="245" width="1" height="12" fill="#26a69a"/>
<rect x="1071" y="251" width="3" height="6" fill="#26a69a"/>
<rect x="1076" y="247" width="1" height="9" fill="#26a69a"/>
<rect x="1075" y="248" width="3" height="4" fill="#26a69a"/>
<rect x="1079" y="246" width="1" height="4" fill="#ef5350"/>
<rect x="1078" y="248" width="3" height="1" fill="#ef5350"/>
<rect x="1083" y="243" width="1" height="8" fill="#ef5350"/>
<rect x="1082" y="249" width="3" height="2" fill="#ef5350"/>
<rect x="1087" y="247" width="1" height="9" fill="#26a69a"/>
<rect x="1086" y="248" width="3" height="3" fill="#26a69a"/>
<rect x="1091" y="243" width="1" height="7" fill="#26a69a"/>
<rect x="1090" y="245" width="3" height="4" fill="#26a69a"/>
<rect x="1095" y="237" width="1" height="10" fill="#26a69a"/>
<rect x="1094" y="239" width="3" height="7" fill="#26a69a"/>
<rect x="1098" y="229" width="1" height="36" fill="#ef5350"/>
<rect x="1097" y="239" width="3" height="20" fill="#ef5350"/>
<rect x="1102" y="250" width="1" height="16" fill="#26a69a"/>
<rect x="1101" y="258" width="3" height="1" fill="#26a69a"/>
<rect x="1106" y="246" width="1" height="13" fill="#26a69a"/>
<rect x="1105" y="254" width="3" height="5" fill="#26a69a"/>
<rect x="1110" y="248" width="1" height="13" fill="#26a69a"/>
<rect x="1109" y="250" width="3" height="5" fill="#26a69a"/>
<rect x="1114" y="244" width="1" height="8" fill="#26a69a"/>
<rect x="1113" y="249" width="3" height="2" fill="#26a69a"/>
<rect x="1117" y="245" width="1" height="9" fill="#ef5350"/>
<rect x="1116" y="249" width="3" height="2" fill="#ef5350"/>
<rect x="1121" y="238" width="1" height="15" fill="#26a69a"/>
<rect x="1120" y="240" width="3" height="11" fill="#26a69a"/>
<rect x="1125" y="227" width="1" height="23" fill="#ef5350"/>
<rect x="1124" y="240" width="3" height="6" fill="#ef5350"/>
<rect x="1129" y="234" width="1" height="13" fill="#26a69a"/>
<rect x="1128" y="236" width="3" height="10" fill="#26a69a"/>
<rect x="1133" y="223" width="1" height="14" fill="#26a69a"/>
<rect x="1132" y="224" width="3" height="13" fill="#26a69a"/>
<rect x="1136" y="213" width="1" height="15" fill="#26a69a"/>
<rect x="1135" y="218" width="3" height="7" fill="#26a69a"/>
<rect x="1140" y="213" width="1" height="10" fill="#ef5350"/>
<rect x="1139" y="218" width="3" height="2" fill="#ef5350"/>
<rect x="1144" y="166" width="1" height="59" fill="#26a69a"/>
<rect x="1143" y="181" width="3" height="39" fill="#26a69a"/>
<rect x="1148" y="172" width="1" height="20" fill="#26a69a"/>
<rect x="1147" y="181" width="3" height="1" fill="#26a69a"/>
<rect x="1152" y="156" width="1" height="33" fill="#26a69a"/>
<rect x="1151" y="160" width="3" height="22" fill="#26a69a"/>
<rect x="1156" y="132" width="1" height="30" fill="#26a69a"/>
<rect x="1155" y="134" width="3" height="27" fill="#26a69a"/>
<rect x="1159" y="131" width="1" height="19" fill="#ef5350"/>
<rect x="1158" y="134" width="3" height="16" fill="#ef5350"/>
<rect x="1163" y="141" width="1" height="9" fill="#26a69a"/>
<rect x="1162" y="141" width="3" height="9" fill="#26a69a"/>
<rect x="1167" y="137" width="1" height="11" fill="#ef5350"/>
<rect x="1166" y="141" width="3" height="6" fill="#ef5350"/>
<rect x="1171" y="141" width="1" height="8" fill="#26a69a"/>
<rect x="1170" y="144" width="3" height="3" fill="#26a69a"/>
<rect x="1175" y="142" width="1" height="8" fill="#ef5350"/>
<rect x="1174" y="144" width="3" height="5" fill="#ef5350"/>
<rect x="1178" y="144" width="1" height="8" fill="#26a69a"/>
<rect x="1177" y="144" width="3" height="3" fill="#26a69a"/>
<rect x="1182" y="130" width="1" height="20" fill="#ef5350"/>
<rect x="1181" y="144" width="3" height="5" fill="#ef5350"/>
<rect x="1186" y="142" width="1" height="17" fill="#ef5350"/>
<rect x="1185" y="148" width="3" height="11" fill="#ef5350"/>
<rect x="1190" y="145" width="1" height="19" fill="#26a69a"/>
<rect x="1189" y="146" width="3" height="13" fill="#26a69a"/>
<rect x="1194" y="146" width="1" height="31" fill="#ef5350"/>
<rect x="1193" y="146" width="3" height="27" fill="#ef5350"/>
<rect x="1197" y="167" width="1" height="9" fill="#26a69a"/>
<rect x="1196" y="170" width="3" height="3" fill="#26a69a"/>
<rect x="1201" y="169" width="1" height="15" fill="#ef5350"/>
<rect x="1200" y="170" width="3" height="13" fill="#ef5350"/>
<rect x="1205" y="163" width="1" height="25" fill="#26a69a"/>
<rect x="1204" y="164" width="3" height="19" fill="#26a69a"/>
<rect x="1209" y="156" width="1" height="14" fill="#ef5350"/>
<rect x="1208" y="164" width="3" height="5" fill="#ef5350"/>
<rect x="1213" y="160" width="1" height="23" fill="#ef5350"/>
<rect x="1212" y="168" width="3" height="15" fill="#ef5350"/>
<rect x="1216" y="147" width="1" height="37" fill="#26a69a"/>
<rect x="1215" y="153" width="3" height="30" fill="#26a69a"/>
<rect x="1220" y="147" width="1" height="17" fill="#ef5350"/>
<rect x="1219" y="153" width="3" height="3" fill="#ef5350"/>
<rect x="1224" y="151" width="1" height="14" fill="#ef5350"/>
<rect x="1223" y="155" width="3" height="5" fill="#ef5350"/>
<rect x="1228" y="154" width="1" height="15" fill="#ef5350"/>
<rect x="1227" y="159" width="3" height="8" fill="#ef5350"/>
<rect x="1232" y="162" width="1" height="7" fill="#26a69a"/>
<rect x="1231" y="166" width="3" height="1" fill="#26a69a"/>
<rect x="1235" y="143" width="1" height="23" fill="#26a69a"/>
<rect x="1234" y="150" width="3" height="16" fill="#26a69a"/>
<rect x="1239" y="134" width="1" height="17" fill="#26a69a"/>
<rect x="1238" y="135" width="3" height="16" fill="#26a69a"/>
<rect x="1243" y="122" width="1" height="14" fill="#26a69a"/>
<rect x="1242" y="127" width="3" height="9" fill="#26a69a"/>
</g>
<path d="M693 58.5 H957 Q964 58.5 964 65.5 V85 L1154 120.5 L954 93.5 H693 Q686 93.5 686 86.5 V65.5 Q686 58.5 693 58.5 Z" fill="#0097a7" fill-opacity="0.7" stroke="#0097a7" stroke-opacity="0.85" stroke-width="1.5" stroke-linejoin="round"/>
<text class="co" x="696.5" y="80.5" textLength="257" lengthAdjust="spacingAndGlyphs">Đang lên tới đúng mức giá mình dự đoán</text>
<path d="M272 345 H464 Q471 345 471 352 V373 Q471 380 464 380 H273 L219 411 L265 370.5 V352 Q265 345 272 345 Z" fill="#0097a7" fill-opacity="0.7" stroke="#0097a7" stroke-opacity="0.85" stroke-width="1.5" stroke-linejoin="round"/>
<text class="co" x="275" y="366" textLength="185.5" lengthAdjust="spacingAndGlyphs">Chạy được 4 R thì drop mạnh</text>
<path d="M28 551 H96 L143.5 541.8 L106 559.5 V578.5 Q106 585.5 99 585.5 H28 Q21 585.5 21 578.5 V558 Q21 551 28 551 Z" fill="#0097a7" fill-opacity="0.7" stroke="#0097a7" stroke-opacity="0.85" stroke-width="1.5" stroke-linejoin="round"/>
<text class="co" x="31.2" y="572" textLength="64" lengthAdjust="spacingAndGlyphs">Khớp lệnh</text>
<path d="M337 592.5 H397.5 L414.8 572.5 L406 598.5 V620 Q406 627 399 627 H337 Q330 627 330 620 V599.5 Q330 592.5 337 592.5 Z" fill="#0097a7" fill-opacity="0.7" stroke="#0097a7" stroke-opacity="0.85" stroke-width="1.5" stroke-linejoin="round"/>
<text class="co" x="341" y="614" textLength="55" lengthAdjust="spacingAndGlyphs">Thua 1 R</text>
<clipPath id="cpco"><path d="M687 59.5H963V92.5H687Z"/></clipPath>
<line x1="1" y1="70.5" x2="1484" y2="70.5" stroke="#b0a4ad" stroke-width="1" stroke-dasharray="5,6" shape-rendering="crispEdges" clip-path="url(#cpco)"/>
<rect x="1506" y="0" width="1" height="775" fill="#dadce2" shape-rendering="crispEdges"/>
<rect x="1507" y="0" width="61" height="775" fill="#fff"/>
<g transform="translate(1486.7,767.9)"><circle r="10.7" fill="#fff"/><circle r="9.7" fill="none" stroke="#fde33a" stroke-width="2"/><circle r="8" fill="#f0f3fa"/><circle r="3.6" fill="#ef5350"/></g>
<g transform="translate(1460,767.9)"><circle r="10.7" fill="#fff"/><circle r="9.7" fill="none" stroke="#fde33a" stroke-width="2"/><circle r="8" fill="#f0f3fa"/><circle r="3.6" fill="#ef5350"/></g>
<g transform="translate(1437.6,767.9)"><circle r="10.7" fill="#fff"/><circle r="9.7" fill="none" stroke="#fde33a" stroke-width="2"/><clipPath id="cp14376"><circle r="8"/></clipPath><g clip-path="url(#cp14376)"><rect x="-9" y="-9" width="18" height="18" fill="#f7f9fc"/><rect x="-9" y="-8.0" width="18" height="3.45" fill="#ef5350"/><rect x="-9" y="-1.9500000000000002" width="18" height="3.45" fill="#ef5350"/><rect x="-9" y="4.1" width="18" height="3.45" fill="#ef5350"/><rect x="-9" y="-9" width="11.2" height="10.9" fill="#1e88e5"/><rect x="-5.9" y="-6.3" width="1.3" height="1.3" fill="#e8f1fb"/><rect x="-5.9" y="-3.6999999999999997" width="1.3" height="1.3" fill="#e8f1fb"/><rect x="-5.9" y="-1.0999999999999996" width="1.3" height="1.3" fill="#e8f1fb"/><rect x="-3.3000000000000003" y="-6.3" width="1.3" height="1.3" fill="#e8f1fb"/><rect x="-3.3000000000000003" y="-3.6999999999999997" width="1.3" height="1.3" fill="#e8f1fb"/><rect x="-3.3000000000000003" y="-1.0999999999999996" width="1.3" height="1.3" fill="#e8f1fb"/><rect x="-0.7000000000000002" y="-6.3" width="1.3" height="1.3" fill="#e8f1fb"/><rect x="-0.7000000000000002" y="-3.6999999999999997" width="1.3" height="1.3" fill="#e8f1fb"/><rect x="-0.7000000000000002" y="-1.0999999999999996" width="1.3" height="1.3" fill="#e8f1fb"/></g></g>
<g transform="translate(1426.8,767.9)"><circle r="10.7" fill="#fff"/><circle r="9.7" fill="none" stroke="#ff9800" stroke-width="2"/><clipPath id="cp14268"><circle r="8"/></clipPath><g clip-path="url(#cp14268)"><rect x="-9" y="-9" width="18" height="18" fill="#f7f9fc"/><rect x="-9" y="-8.0" width="18" height="3.45" fill="#ef5350"/><rect x="-9" y="-1.9500000000000002" width="18" height="3.45" fill="#ef5350"/><rect x="-9" y="4.1" width="18" height="3.45" fill="#ef5350"/><rect x="-9" y="-9" width="11.2" height="10.9" fill="#1e88e5"/><rect x="-5.9" y="-6.3" width="1.3" height="1.3" fill="#e8f1fb"/><rect x="-5.9" y="-3.6999999999999997" width="1.3" height="1.3" fill="#e8f1fb"/><rect x="-5.9" y="-1.0999999999999996" width="1.3" height="1.3" fill="#e8f1fb"/><rect x="-3.3000000000000003" y="-6.3" width="1.3" height="1.3" fill="#e8f1fb"/><rect x="-3.3000000000000003" y="-3.6999999999999997" width="1.3" height="1.3" fill="#e8f1fb"/><rect x="-3.3000000000000003" y="-1.0999999999999996" width="1.3" height="1.3" fill="#e8f1fb"/><rect x="-0.7000000000000002" y="-6.3" width="1.3" height="1.3" fill="#e8f1fb"/><rect x="-0.7000000000000002" y="-3.6999999999999997" width="1.3" height="1.3" fill="#e8f1fb"/><rect x="-0.7000000000000002" y="-1.0999999999999996" width="1.3" height="1.3" fill="#e8f1fb"/></g></g>
<g transform="translate(1414.2,767.9)"><circle r="10.7" fill="#fff"/><circle r="9.7" fill="none" stroke="#fde33a" stroke-width="2"/><clipPath id="cp14142"><circle r="8"/></clipPath><g clip-path="url(#cp14142)"><rect x="-9" y="-9" width="18" height="18" fill="#f7f9fc"/><rect x="-9" y="-8.0" width="18" height="3.45" fill="#ef5350"/><rect x="-9" y="-1.9500000000000002" width="18" height="3.45" fill="#ef5350"/><rect x="-9" y="4.1" width="18" height="3.45" fill="#ef5350"/><rect x="-9" y="-9" width="11.2" height="10.9" fill="#1e88e5"/><rect x="-5.9" y="-6.3" width="1.3" height="1.3" fill="#e8f1fb"/><rect x="-5.9" y="-3.6999999999999997" width="1.3" height="1.3" fill="#e8f1fb"/><rect x="-5.9" y="-1.0999999999999996" width="1.3" height="1.3" fill="#e8f1fb"/><rect x="-3.3000000000000003" y="-6.3" width="1.3" height="1.3" fill="#e8f1fb"/><rect x="-3.3000000000000003" y="-3.6999999999999997" width="1.3" height="1.3" fill="#e8f1fb"/><rect x="-3.3000000000000003" y="-1.0999999999999996" width="1.3" height="1.3" fill="#e8f1fb"/><rect x="-0.7000000000000002" y="-6.3" width="1.3" height="1.3" fill="#e8f1fb"/><rect x="-0.7000000000000002" y="-3.6999999999999997" width="1.3" height="1.3" fill="#e8f1fb"/><rect x="-0.7000000000000002" y="-1.0999999999999996" width="1.3" height="1.3" fill="#e8f1fb"/></g></g>
<g transform="translate(1391.3,767.9)"><circle r="10.7" fill="#fff"/><circle r="9.7" fill="none" stroke="#fde33a" stroke-width="2"/><circle r="8" fill="#f0f3fa"/><circle r="3.6" fill="#ef5350"/></g>
<g transform="translate(1369.5,767.9)"><circle r="10.7" fill="#fff"/><circle r="9.7" fill="none" stroke="#ff9800" stroke-width="2"/><circle r="8" fill="#f0f3fa"/><circle r="3.6" fill="#ef5350"/></g>
<g transform="translate(1357.4,767.9)"><circle r="10.7" fill="#fff"/><circle r="9.7" fill="none" stroke="#ff9800" stroke-width="2"/><clipPath id="cp13574"><circle r="8"/></clipPath><g clip-path="url(#cp13574)"><rect x="-9" y="-9" width="18" height="18" fill="#f7f9fc"/><rect x="-9" y="-8.0" width="18" height="3.45" fill="#ef5350"/><rect x="-9" y="-1.9500000000000002" width="18" height="3.45" fill="#ef5350"/><rect x="-9" y="4.1" width="18" height="3.45" fill="#ef5350"/><rect x="-9" y="-9" width="11.2" height="10.9" fill="#1e88e5"/><rect x="-5.9" y="-6.3" width="1.3" height="1.3" fill="#e8f1fb"/><rect x="-5.9" y="-3.6999999999999997" width="1.3" height="1.3" fill="#e8f1fb"/><rect x="-5.9" y="-1.0999999999999996" width="1.3" height="1.3" fill="#e8f1fb"/><rect x="-3.3000000000000003" y="-6.3" width="1.3" height="1.3" fill="#e8f1fb"/><rect x="-3.3000000000000003" y="-3.6999999999999997" width="1.3" height="1.3" fill="#e8f1fb"/><rect x="-3.3000000000000003" y="-1.0999999999999996" width="1.3" height="1.3" fill="#e8f1fb"/><rect x="-0.7000000000000002" y="-6.3" width="1.3" height="1.3" fill="#e8f1fb"/><rect x="-0.7000000000000002" y="-3.6999999999999997" width="1.3" height="1.3" fill="#e8f1fb"/><rect x="-0.7000000000000002" y="-1.0999999999999996" width="1.3" height="1.3" fill="#e8f1fb"/></g></g>
<g transform="translate(1353.6,767.9)"><circle r="10.7" fill="#fff"/><circle r="9.7" fill="none" stroke="#fde33a" stroke-width="2"/><clipPath id="cp13536"><circle r="8"/></clipPath><g clip-path="url(#cp13536)"><rect x="-9" y="-9" width="18" height="18" fill="#f7f9fc"/><rect x="-9" y="-8.0" width="18" height="3.45" fill="#ef5350"/><rect x="-9" y="-1.9500000000000002" width="18" height="3.45" fill="#ef5350"/><rect x="-9" y="4.1" width="18" height="3.45" fill="#ef5350"/><rect x="-9" y="-9" width="11.2" height="10.9" fill="#1e88e5"/><rect x="-5.9" y="-6.3" width="1.3" height="1.3" fill="#e8f1fb"/><rect x="-5.9" y="-3.6999999999999997" width="1.3" height="1.3" fill="#e8f1fb"/><rect x="-5.9" y="-1.0999999999999996" width="1.3" height="1.3" fill="#e8f1fb"/><rect x="-3.3000000000000003" y="-6.3" width="1.3" height="1.3" fill="#e8f1fb"/><rect x="-3.3000000000000003" y="-3.6999999999999997" width="1.3" height="1.3" fill="#e8f1fb"/><rect x="-3.3000000000000003" y="-1.0999999999999996" width="1.3" height="1.3" fill="#e8f1fb"/><rect x="-0.7000000000000002" y="-6.3" width="1.3" height="1.3" fill="#e8f1fb"/><rect x="-0.7000000000000002" y="-3.6999999999999997" width="1.3" height="1.3" fill="#e8f1fb"/><rect x="-0.7000000000000002" y="-1.0999999999999996" width="1.3" height="1.3" fill="#e8f1fb"/></g></g>
<g transform="translate(1346.4,767.9)"><circle r="10.7" fill="#fff"/><circle r="9.7" fill="none" stroke="#fde33a" stroke-width="2"/><clipPath id="cp13464"><circle r="8"/></clipPath><g clip-path="url(#cp13464)"><rect x="-9" y="-9" width="18" height="18" fill="#f7f9fc"/><rect x="-9" y="-8.0" width="18" height="3.45" fill="#ef5350"/><rect x="-9" y="-1.9500000000000002" width="18" height="3.45" fill="#ef5350"/><rect x="-9" y="4.1" width="18" height="3.45" fill="#ef5350"/><rect x="-9" y="-9" width="11.2" height="10.9" fill="#1e88e5"/><rect x="-5.9" y="-6.3" width="1.3" height="1.3" fill="#e8f1fb"/><rect x="-5.9" y="-3.6999999999999997" width="1.3" height="1.3" fill="#e8f1fb"/><rect x="-5.9" y="-1.0999999999999996" width="1.3" height="1.3" fill="#e8f1fb"/><rect x="-3.3000000000000003" y="-6.3" width="1.3" height="1.3" fill="#e8f1fb"/><rect x="-3.3000000000000003" y="-3.6999999999999997" width="1.3" height="1.3" fill="#e8f1fb"/><rect x="-3.3000000000000003" y="-1.0999999999999996" width="1.3" height="1.3" fill="#e8f1fb"/><rect x="-0.7000000000000002" y="-6.3" width="1.3" height="1.3" fill="#e8f1fb"/><rect x="-0.7000000000000002" y="-3.6999999999999997" width="1.3" height="1.3" fill="#e8f1fb"/><rect x="-0.7000000000000002" y="-1.0999999999999996" width="1.3" height="1.3" fill="#e8f1fb"/></g></g>
<g transform="translate(1327.1,767.9)"><circle r="10.7" fill="#fff"/><circle r="9.7" fill="none" stroke="#f23645" stroke-width="2"/><clipPath id="cp13271"><circle r="8"/></clipPath><g clip-path="url(#cp13271)"><rect x="-9" y="-9" width="18" height="18" fill="#f7f9fc"/><rect x="-9" y="-8.0" width="18" height="3.45" fill="#ef5350"/><rect x="-9" y="-1.9500000000000002" width="18" height="3.45" fill="#ef5350"/><rect x="-9" y="4.1" width="18" height="3.45" fill="#ef5350"/><rect x="-9" y="-9" width="11.2" height="10.9" fill="#1e88e5"/><rect x="-5.9" y="-6.3" width="1.3" height="1.3" fill="#e8f1fb"/><rect x="-5.9" y="-3.6999999999999997" width="1.3" height="1.3" fill="#e8f1fb"/><rect x="-5.9" y="-1.0999999999999996" width="1.3" height="1.3" fill="#e8f1fb"/><rect x="-3.3000000000000003" y="-6.3" width="1.3" height="1.3" fill="#e8f1fb"/><rect x="-3.3000000000000003" y="-3.6999999999999997" width="1.3" height="1.3" fill="#e8f1fb"/><rect x="-3.3000000000000003" y="-1.0999999999999996" width="1.3" height="1.3" fill="#e8f1fb"/><rect x="-0.7000000000000002" y="-6.3" width="1.3" height="1.3" fill="#e8f1fb"/><rect x="-0.7000000000000002" y="-3.6999999999999997" width="1.3" height="1.3" fill="#e8f1fb"/><rect x="-0.7000000000000002" y="-1.0999999999999996" width="1.3" height="1.3" fill="#e8f1fb"/></g></g>
<g transform="translate(1316.5,767.9)"><circle r="10.7" fill="#fff"/><circle r="9.7" fill="none" stroke="#fde33a" stroke-width="2"/><clipPath id="cp13165"><circle r="8"/></clipPath><g clip-path="url(#cp13165)"><rect x="-9" y="-9" width="18" height="18" fill="#f7f9fc"/><rect x="-9" y="-8.0" width="18" height="3.45" fill="#ef5350"/><rect x="-9" y="-1.9500000000000002" width="18" height="3.45" fill="#ef5350"/><rect x="-9" y="4.1" width="18" height="3.45" fill="#ef5350"/><rect x="-9" y="-9" width="11.2" height="10.9" fill="#1e88e5"/><rect x="-5.9" y="-6.3" width="1.3" height="1.3" fill="#e8f1fb"/><rect x="-5.9" y="-3.6999999999999997" width="1.3" height="1.3" fill="#e8f1fb"/><rect x="-5.9" y="-1.0999999999999996" width="1.3" height="1.3" fill="#e8f1fb"/><rect x="-3.3000000000000003" y="-6.3" width="1.3" height="1.3" fill="#e8f1fb"/><rect x="-3.3000000000000003" y="-3.6999999999999997" width="1.3" height="1.3" fill="#e8f1fb"/><rect x="-3.3000000000000003" y="-1.0999999999999996" width="1.3" height="1.3" fill="#e8f1fb"/><rect x="-0.7000000000000002" y="-6.3" width="1.3" height="1.3" fill="#e8f1fb"/><rect x="-0.7000000000000002" y="-3.6999999999999997" width="1.3" height="1.3" fill="#e8f1fb"/><rect x="-0.7000000000000002" y="-1.0999999999999996" width="1.3" height="1.3" fill="#e8f1fb"/></g></g>
<g transform="translate(1300.3,767.9)"><circle r="10.7" fill="#fff"/><circle r="9.7" fill="none" stroke="#fde33a" stroke-width="2"/><circle r="8" fill="#f0f3fa"/><circle r="3.6" fill="#ef5350"/></g>
<g transform="translate(1289.1,767.9)"><circle r="10.7" fill="#fff"/><circle r="9.7" fill="none" stroke="#fde33a" stroke-width="2"/><circle r="8" fill="#f0f3fa"/><circle r="3.6" fill="#ef5350"/></g>
<g transform="translate(1277,767.9)"><circle r="10.7" fill="#fff"/><circle r="9.7" fill="none" stroke="#fde33a" stroke-width="2"/><circle r="8" fill="#f0f3fa"/><circle r="3.6" fill="#ef5350"/></g>
<g transform="translate(1247.6,767.9)"><circle r="10.7" fill="#fff"/><circle r="9.7" fill="none" stroke="#fde33a" stroke-width="2"/><clipPath id="cp12476"><circle r="8"/></clipPath><g clip-path="url(#cp12476)"><rect x="-9" y="-9" width="18" height="18" fill="#f7f9fc"/><rect x="-9" y="-8.0" width="18" height="3.45" fill="#ef5350"/><rect x="-9" y="-1.9500000000000002" width="18" height="3.45" fill="#ef5350"/><rect x="-9" y="4.1" width="18" height="3.45" fill="#ef5350"/><rect x="-9" y="-9" width="11.2" height="10.9" fill="#1e88e5"/><rect x="-5.9" y="-6.3" width="1.3" height="1.3" fill="#e8f1fb"/><rect x="-5.9" y="-3.6999999999999997" width="1.3" height="1.3" fill="#e8f1fb"/><rect x="-5.9" y="-1.0999999999999996" width="1.3" height="1.3" fill="#e8f1fb"/><rect x="-3.3000000000000003" y="-6.3" width="1.3" height="1.3" fill="#e8f1fb"/><rect x="-3.3000000000000003" y="-3.6999999999999997" width="1.3" height="1.3" fill="#e8f1fb"/><rect x="-3.3000000000000003" y="-1.0999999999999996" width="1.3" height="1.3" fill="#e8f1fb"/><rect x="-0.7000000000000002" y="-6.3" width="1.3" height="1.3" fill="#e8f1fb"/><rect x="-0.7000000000000002" y="-3.6999999999999997" width="1.3" height="1.3" fill="#e8f1fb"/><rect x="-0.7000000000000002" y="-1.0999999999999996" width="1.3" height="1.3" fill="#e8f1fb"/></g></g>
<g transform="translate(1242.9,767.9)"><circle r="10.7" fill="#fff"/><circle r="9.7" fill="none" stroke="#fde33a" stroke-width="2"/><clipPath id="cp12429"><circle r="8"/></clipPath><g clip-path="url(#cp12429)"><rect x="-9" y="-9" width="18" height="18" fill="#f7f9fc"/><rect x="-9" y="-8.0" width="18" height="3.45" fill="#ef5350"/><rect x="-9" y="-1.9500000000000002" width="18" height="3.45" fill="#ef5350"/><rect x="-9" y="4.1" width="18" height="3.45" fill="#ef5350"/><rect x="-9" y="-9" width="11.2" height="10.9" fill="#1e88e5"/><rect x="-5.9" y="-6.3" width="1.3" height="1.3" fill="#e8f1fb"/><rect x="-5.9" y="-3.6999999999999997" width="1.3" height="1.3" fill="#e8f1fb"/><rect x="-5.9" y="-1.0999999999999996" width="1.3" height="1.3" fill="#e8f1fb"/><rect x="-3.3000000000000003" y="-6.3" width="1.3" height="1.3" fill="#e8f1fb"/><rect x="-3.3000000000000003" y="-3.6999999999999997" width="1.3" height="1.3" fill="#e8f1fb"/><rect x="-3.3000000000000003" y="-1.0999999999999996" width="1.3" height="1.3" fill="#e8f1fb"/><rect x="-0.7000000000000002" y="-6.3" width="1.3" height="1.3" fill="#e8f1fb"/><rect x="-0.7000000000000002" y="-3.6999999999999997" width="1.3" height="1.3" fill="#e8f1fb"/><rect x="-0.7000000000000002" y="-1.0999999999999996" width="1.3" height="1.3" fill="#e8f1fb"/></g></g>
</svg>
<div class="abs" style="left:10px;top:2.8px;font-size:16px;line-height:20px;letter-spacing:-0.32px;">U.S. Dollar / Japanese Yen <span style="color:#9598a1">·</span> 1h <span style="color:#9598a1">·</span> FXCM <span style="color:#9598a1">·</span> TradingView</div>
<div class="abs" style="left:394px;top:3px;width:20px;height:18px;background:#dff3f0;border-radius:9px 0 0 9px;"></div>
<div class="abs" style="left:414px;top:3px;width:20px;height:18px;background:#fde3ec;border-radius:0 9px 9px 0;"></div>
<div class="abs" style="left:401px;top:8px;width:8px;height:8px;background:#089981;border-radius:50%;"></div>
<div class="abs" style="left:416.5px;top:3px;width:13px;height:18px;line-height:18px;text-align:center;font-size:16.5px;font-weight:bold;color:#c2185b;">≈</div>
<div class="abs" id="ohlc" style="left:449.5px;top:6px;font-size:13px;line-height:16px;color:#26a69a;word-spacing:1.5px;letter-spacing:-0.2px"><span style="color:#50535e">O</span>129.143 <span style="color:#50535e">H</span>129.283 <span style="color:#50535e">L</span>129.018 <span style="color:#50535e">C</span>129.229 +0.086 (+0.07%)</div>
<div class="abs" style="left:9px;top:28px;width:61px;height:23.5px;border:1px solid #f23645;border-radius:4px;background:#fff;box-sizing:border-box;color:#f23645;font-size:12.6px;line-height:22px;text-align:center;">131.01<span style="font-size:9.5px;position:relative;top:-3.5px">3</span></div>
<div class="abs" style="left:77.5px;top:34px;font-size:10.6px;line-height:14px;color:#50535e;">0.1</div>
<div class="abs" style="left:101px;top:28px;width:61px;height:23.5px;border:1px solid #2962ff;border-radius:4px;background:#fff;box-sizing:border-box;color:#2962ff;font-size:12.6px;line-height:22px;text-align:center;">131.01<span style="font-size:9.5px;position:relative;top:-3.5px">4</span></div>
<div class="abs" style="left:1514.5px;top:1px;font-size:10.8px;line-height:16px;">JPY</div>
<svg class="abs" style="left:1555px;top:4.6px" width="10" height="8" viewBox="0 0 10 8"><path d="M2 2.2 L5 5.2 L8 2.2" fill="none" stroke="#131722" stroke-width="1.3"/></svg>
<div class="tick" style="top:17.5px;color:#6a6d78">132.000</div>
<div class="tick" style="top:174px;color:#131722">130.500</div>
<div class="tick" style="top:226px;color:#131722">130.000</div>
<div class="tick" style="top:278.5px;color:#131722">129.500</div>
<div class="tick" style="top:330.5px;color:#131722">129.000</div>
<div class="tick" style="top:486.5px;color:#131722">127.500</div>
<div class="tick" style="top:642px;color:#131722">126.000</div>
<div class="tick" style="top:746.5px;color:#131722">125.000</div>
<div class="lbl" style="top:34px;background:#f44336">131.391</div>
<div class="lbl" style="top:51px;background:#009688">131.177</div>
<div class="lbl" style="top:68px;background:#009688"></div>
<div class="lbl" style="top:85px;background:#787b86">131.092</div>
<div class="lbl" style="top:102px;background:#009688">131.070</div>
<div class="lbl" style="top:268px;background:#009688">129.590</div>
<div class="lbl" style="top:352px;background:#787b86">128.784</div>
<div class="lbl" style="top:370px;background:#787b86">128.609</div>
<div class="lbl" style="top:387px;background:#f44336">128.485</div>
<div class="lbl" style="top:404px;background:#f44336">128.336</div>
<div class="lbl" style="top:421px;background:#f44336">128.305</div>
<div class="lbl" style="top:438px;background:#787b86">128.057</div>
<div class="lbl" style="top:515px;background:#009688">127.219</div>
<div class="lbl" style="top:533px;background:#787b86">127.044</div>
<div class="lbl" style="top:550px;background:#f44336">126.994</div>
<div class="lbl" style="top:567px;background:#f44336">126.742</div>
<div class="lbl" style="top:584px;background:#787b86">126.709</div>
<div class="lbl" style="top:601px;background:#009688">126.575</div>
<div class="lbl" style="top:648px;background:#f44336">125.937</div>
<div class="lbl" style="top:673px;background:#787b86">125.694</div>
<div class="lbl" style="top:690px;background:#787b86">125.637</div>
<div class="lbl" style="top:707px;background:#f44336">125.400</div>
<div class="lbl" style="top:724px;background:#009688">125.278</div>
<div class="lbl" style="top:119px;height:31px;background:#26a69a;line-height:14px;padding-top:2.5px">131.014<br><span style="color:rgba(255,255,255,0.78)">47:33</span></div>
<div class="lbl" style="top:60px;height:20.5px;line-height:20.5px;background:#131722;">131.565</div>
<div class="abs" style="left:1484px;top:60px;width:21px;height:20.5px;background:#131722;border-radius:2px;"></div>
<svg class="abs" style="left:1484px;top:60px" width="21" height="21" viewBox="0 0 21 21"><circle cx="10.6" cy="10.5" r="7.8" fill="none" stroke="#e6e8ee" stroke-width="1.2"/><path d="M10.6 6.9V14.1M7 10.5H14.2" stroke="#fff" stroke-width="1.3"/></svg>
<div class="abs" style="left:22.5px;top:728.5px;width:220px;height:40px;background:#fff;border-radius:7px;box-shadow:0 1px 5px rgba(100,110,160,0.35);"></div>
<svg class="abs" style="left:22px;top:728px" width="222" height="21" viewBox="0 0 222 21">
<g stroke="#e9ecf5" stroke-width="1" shape-rendering="crispEdges"><line x1="25.5" y1="1" x2="25.5" y2="21"/><line x1="64.5" y1="1" x2="64.5" y2="21"/><line x1="103.5" y1="1" x2="103.5" y2="21"/><line x1="142.5" y1="1" x2="142.5" y2="21"/><line x1="181.5" y1="1" x2="181.5" y2="21"/></g>
<g fill="#b2b5be"><rect x="9" y="14.5" width="1.6" height="1.6"/><rect x="14" y="14.5" width="1.6" height="1.6"/><rect x="9" y="19" width="1.6" height="1.6"/><rect x="14" y="19" width="1.6" height="1.6"/></g>
<g fill="#fff" stroke="#131722" stroke-width="1.1">
<path d="M36.5 11.5H53.5M36.5 13V21M53.5 13V21" fill="none"/><circle cx="36.5" cy="11.5" r="2.1"/><circle cx="53.5" cy="11.5" r="2.1"/>
<path d="M76 12.5H94" fill="none"/><circle cx="74.5" cy="12.5" r="2.1"/><path d="M79 20.5L93 14" fill="none" stroke-dasharray="1.3,2"/>
<path d="M115 12.5H133M115 18.5H131" fill="none"/><circle cx="113.5" cy="12.5" r="2.1"/><circle cx="113.5" cy="18.5" r="2.1"/><circle cx="131.5" cy="18.5" r="2.1"/>
<path d="M151 10.5H173M151 16.5H171" fill="none"/><circle cx="172.5" cy="16.5" r="2.1"/>
<path d="M192.5 21V11.5H210.5V21" fill="none" stroke-width="1.3"/>
</g></svg>
<svg class="abs" style="left:6px;top:738px" width="20" height="12" viewBox="0 0 20 12"><circle cx="16" cy="18" r="14" fill="none" stroke="#e0e3eb" stroke-width="1"/></svg>
<div class="abs" style="left:-4px;top:748px;width:389px;height:40px;background:#fff;border-radius:0 7px 0 0;box-shadow:0 0 3px rgba(100,110,160,0.18);"></div>
<div class="abs" style="left:-3.5px;top:760px;font-size:13.2px;font-weight:bold;line-height:18px;color:#131722;letter-spacing:0.1px">A-Z of stock and crypto slang</div>
<div class="abs" style="left:273px;top:760px;width:80px;height:20px;background:#131722;"></div>
<div class="abs" style="left:353px;top:758px;width:21.5px;height:20px;background:#f0f3fa;border-radius:0 5px 0 0;"></div>
<svg class="abs" style="left:357px;top:762px" width="14" height="14" viewBox="0 0 14 14"><path d="M1.5 1.5L12 12M12 1.5L1.5 12" stroke="#50535e" stroke-width="1.1" fill="none"/></svg>
</body></html>
